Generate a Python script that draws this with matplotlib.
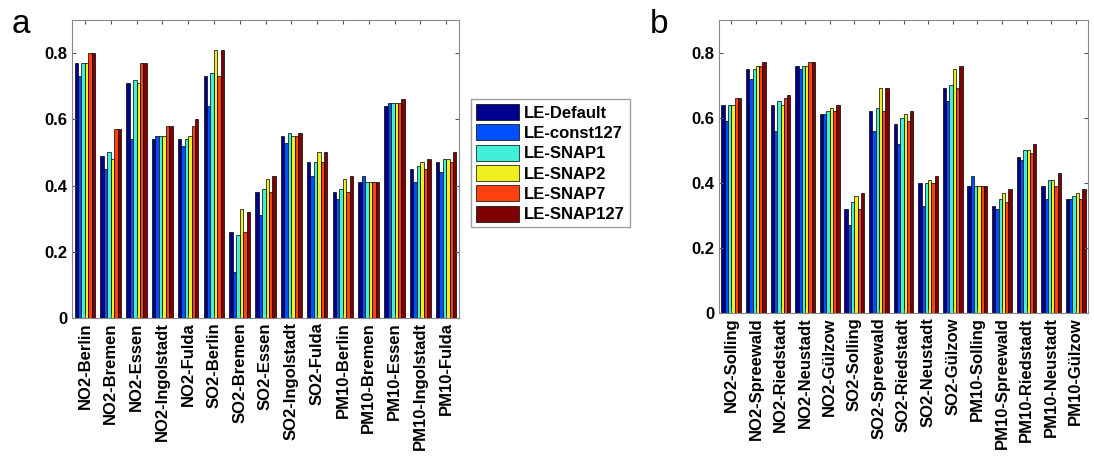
import matplotlib
matplotlib.use('Agg')
import matplotlib.pyplot as plt
import numpy as np

plt.rcParams['font.family'] = ['Liberation Sans', 'DejaVu Sans']

series = ['LE-Default', 'LE-const127', 'LE-SNAP1', 'LE-SNAP2', 'LE-SNAP7', 'LE-SNAP127']
colors = ['#00008C', '#0050FF', '#40F0D8', '#F0F020', '#FF4010', '#7F0000']

# panel a
sites_a = ['NO2-Berlin', 'NO2-Bremen', 'NO2-Essen', 'NO2-Ingolstadt', 'NO2-Fulda',
           'SO2-Berlin', 'SO2-Bremen', 'SO2-Essen', 'SO2-Ingolstadt', 'SO2-Fulda',
           'PM10-Berlin', 'PM10-Bremen', 'PM10-Essen', 'PM10-Ingolstadt', 'PM10-Fulda']
le_default_a = [0.77, 0.49, 0.71, 0.54, 0.54, 0.73, 0.26, 0.38, 0.55, 0.47, 0.38, 0.41, 0.64, 0.45, 0.47]
le_const127_a = [0.73, 0.45, 0.54, 0.55, 0.52, 0.64, 0.14, 0.31, 0.53, 0.43, 0.36, 0.43, 0.65, 0.41, 0.44]
le_snap1_a = [0.77, 0.50, 0.72, 0.55, 0.54, 0.74, 0.25, 0.39, 0.56, 0.47, 0.39, 0.41, 0.65, 0.46, 0.48]
le_snap2_a = [0.77, 0.48, 0.71, 0.55, 0.55, 0.81, 0.33, 0.42, 0.55, 0.50, 0.42, 0.41, 0.65, 0.47, 0.48]
le_snap7_a = [0.80, 0.57, 0.77, 0.58, 0.58, 0.73, 0.26, 0.38, 0.55, 0.47, 0.38, 0.41, 0.65, 0.45, 0.47]
le_snap127_a = [0.80, 0.57, 0.77, 0.58, 0.60, 0.81, 0.32, 0.43, 0.56, 0.50, 0.43, 0.41, 0.66, 0.48, 0.50]

# panel b
sites_b = ['NO2-Solling', 'NO2-Spreewald', 'NO2-Riedstadt', 'NO2-Neustadt', 'NO2-Gülzow',
           'SO2-Solling', 'SO2-Spreewald', 'SO2-Riedstadt', 'SO2-Neustadt', 'SO2-Gülzow',
           'PM10-Solling', 'PM10-Spreewald', 'PM10-Riedstadt', 'PM10-Neustadt', 'PM10-Gülzow']
le_default_b = [0.64, 0.75, 0.64, 0.76, 0.61, 0.32, 0.62, 0.58, 0.40, 0.69, 0.39, 0.33, 0.48, 0.39, 0.35]
le_const127_b = [0.59, 0.72, 0.56, 0.75, 0.61, 0.27, 0.56, 0.52, 0.33, 0.65, 0.42, 0.32, 0.47, 0.35, 0.35]
le_snap1_b = [0.64, 0.75, 0.65, 0.76, 0.62, 0.34, 0.63, 0.60, 0.40, 0.70, 0.39, 0.35, 0.50, 0.41, 0.36]
le_snap2_b = [0.64, 0.76, 0.64, 0.76, 0.63, 0.36, 0.69, 0.61, 0.41, 0.75, 0.39, 0.37, 0.50, 0.41, 0.37]
le_snap7_b = [0.66, 0.76, 0.66, 0.77, 0.62, 0.32, 0.62, 0.59, 0.40, 0.69, 0.39, 0.34, 0.49, 0.39, 0.35]
le_snap127_b = [0.66, 0.77, 0.67, 0.77, 0.64, 0.37, 0.69, 0.62, 0.42, 0.76, 0.39, 0.38, 0.52, 0.43, 0.38]

data_a = [le_default_a, le_const127_a, le_snap1_a, le_snap2_a, le_snap7_a, le_snap127_a]
data_b = [le_default_b, le_const127_b, le_snap1_b, le_snap2_b, le_snap7_b, le_snap127_b]

fig = plt.figure(figsize=(10.94, 4.58), dpi=100)
W, H = 1094, 458
ax_a = fig.add_axes([72 / W, 1 - 318 / H, (459 - 72) / W, (318 - 20) / H])
ax_b = fig.add_axes([719 / W, 1 - 313 / H, (1088 - 719) / W, (313 - 20) / H])


def draw(ax, sites, data):
    n = len(data)
    x = np.arange(1, len(sites) + 1)
    gw = 0.8
    bw = gw / n
    handles = []
    for i, vals in enumerate(data):
        off = -gw / 2 + bw * (i + 0.5)
        h = ax.bar(x + off, vals, bw, color=colors[i], edgecolor='black',
                   linewidth=0.5, label=series[i])
        handles.append(h)
    ax.set_xlim(0.5, len(sites) + 0.5)
    ax.set_ylim(0, 0.9)
    ax.set_xticks(x)
    ax.set_xticklabels(sites, rotation=90, fontsize=12, fontweight='bold')
    ax.set_yticks([0, 0.2, 0.4, 0.6, 0.8])
    ax.set_yticklabels(['0', '0.2', '0.4', '0.6', '0.8'], fontsize=12, fontweight='bold')
    ax.tick_params(direction='in', top=True, right=True, length=3, color='#555555', pad=3)
    for s in ax.spines.values():
        s.set_color('#888888')
    return handles


handles = draw(ax_a, sites_a, data_a)
draw(ax_b, sites_b, data_b)

fig.legend(handles, series, loc='upper left', bbox_to_anchor=(471 / W, 1 - 99 / H),
           prop={'weight': 'bold', 'size': 12}, frameon=True, fancybox=False,
           edgecolor='#888888', handlelength=2.6, handleheight=1.1, borderpad=0.3,
           labelspacing=0.22, handletextpad=0.3, borderaxespad=0)

fig.text(12 / W, 1 - 33 / H, 'a', fontsize=24)
fig.text(650 / W, 1 - 33 / H, 'b', fontsize=24)

fig.savefig('out.png', dpi=100)
